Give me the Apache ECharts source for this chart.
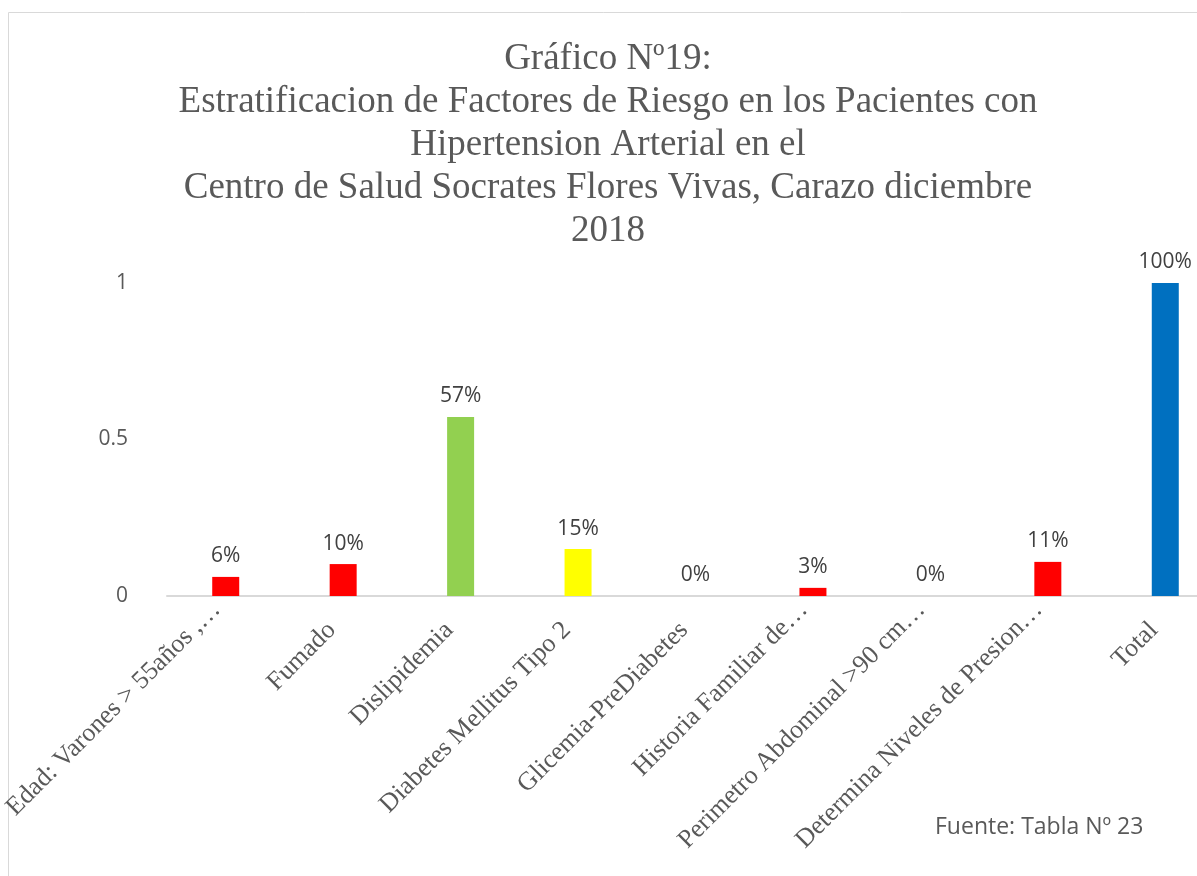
<!DOCTYPE html>
<html>
<head>
<meta charset="utf-8">
<script src="https://cdn.jsdelivr.net/npm/echarts@6/dist/echarts.min.js"></script>
<style>
  html, body { margin: 0; padding: 0; background: #fff; }
  #chart { width: 1197px; height: 876px; }
</style>
</head>
<body>
<div id="chart"></div>
<script>
var categories = ['Edad: Varones > 55años ,…', 'Fumado', 'Dislipidemia', 'Diabetes Mellitus Tipo 2',
  'Glicemia-PreDiabetes', 'Historia Familiar de…', 'Perimetro Abdominal >90 cm…',
  'Determina Niveles de Presion…', 'Total'];
var values = [0.061, 0.102, 0.572, 0.15, 0, 0.026, 0, 0.109, 1];
var barColors = ['#FF0000', '#FF0000', '#92D050', '#FFFF00', '#FF0000', '#FF0000', '#FF0000', '#FF0000', '#0070C0'];
var yTicks = [0, 0.5, 1];

var titleText = 'Gráfico Nº19:\nEstratificacion de Factores de Riesgo en los Pacientes con\nHipertension Arterial en el\nCentro de Salud Socrates Flores Vivas, Carazo diciembre\n2018';

// labels without the ellipsis sit a bit lower in the original
var xData = categories.map(function (c) {
  if (c.indexOf('…') >= 0) return c;
  return { value: c, textStyle: { verticalAlign: 'middle', padding: [0, 16, 0, 0] } };
});

var myChart = echarts.init(document.getElementById('chart'));
var option = {
  animation: false,
  title: {
    text: titleText,
    left: 603,
    textAlign: 'center',
    top: 33,
    textStyle: {
      fontFamily: 'Liberation Serif',
      fontWeight: 'normal',
      fontSize: 37,
      lineHeight: 43,
      color: '#595959'
    }
  },
  graphic: [{
    type: 'rect',
    shape: { x: 8.5, y: 12.5, width: 1300, height: 1000 },
    style: { fill: 'none', stroke: '#d9d9d9', lineWidth: 1 },
    silent: true
  }, {
    type: 'text',
    left: 935,
    top: 816,
    style: {
      text: 'Fuente: Tabla Nº 23',
      font: '23px "Open Sans"',
      fill: '#595959'
    }
  }],
  grid: {
    left: 167,
    right: -27,
    top: 283,
    bottom: 280,
    outerBoundsMode: 'none',
    containLabel: false
  },
  xAxis: [{
    type: 'category',
    data: xData,
    axisLine: { lineStyle: { color: '#d9d9d9', width: 2 } },
    axisTick: { show: false },
    axisLabel: {
      interval: 0,
      rotate: 45,
      margin: 19,
      verticalAlign: 'bottom',
      fontFamily: 'Liberation Serif',
      fontSize: 26,
      color: '#595959'
    }
  }],
  yAxis: [{
    type: 'value',
    min: yTicks[0],
    max: yTicks[yTicks.length - 1],
    interval: 0.5,
    splitLine: { show: false },
    axisLine: { show: false },
    axisTick: { show: false },
    axisLabel: {
      margin: 39,
      fontFamily: 'Open Sans',
      fontSize: 21,
      color: '#595959'
    }
  }],
  series: [{
    type: 'bar',
    barWidth: 27,
    data: values.map(function (v, i) {
      return { value: v, itemStyle: { color: barColors[i] } };
    }),
    label: {
      show: true,
      position: 'top',
      distance: 10,
      fontFamily: 'Open Sans',
      fontSize: 21,
      color: '#404040',
      formatter: function (p) { return Math.round(p.value * 100) + '%'; }
    }
  }]
};
myChart.setOption(option);
</script>
</body>
</html>
